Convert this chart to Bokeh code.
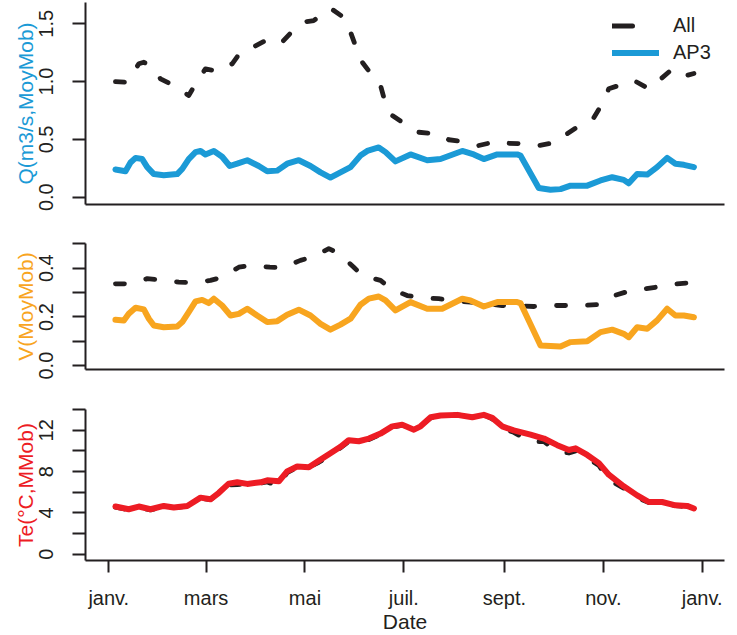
from bokeh.plotting import figure
from bokeh.models import Range1d, FixedTicker, Legend, LegendItem
from bokeh.layouts import column
from bokeh.embed import file_html
from bokeh.resources import INLINE

# ---------------- data (day of year, leap year; 0 = 1 janv.) ----------------
q_ap3_day = [4.1, 10.3, 13.4, 16.5, 20.6, 23.7, 27.8, 33.9, 42.2, 45.3, 49.3, 53.5, 56.6, 59.6, 64.8,
             69.9, 74.6, 79.2, 85.4, 92.5, 97.7, 103.9, 110.0, 117.2, 124.4, 130.6, 136.7, 142.9, 149.1,
             155.2, 159.4, 166.5, 170.7, 176.8, 186.1, 196.4, 204.6, 218.0, 225.1, 231.3, 239.6, 251.9,
             253.9, 265.2, 272.4, 278.6, 284.8, 295.1, 303.3, 310.5, 317.6, 320.7, 325.9, 332.1, 338.2,
             344.4, 349.5, 354.7, 360.9]
q_ap3_val = [0.24, 0.225, 0.30, 0.34, 0.33, 0.26, 0.20, 0.19, 0.20, 0.245, 0.33, 0.39, 0.40, 0.37, 0.40,
             0.35, 0.27, 0.29, 0.32, 0.27, 0.225, 0.23, 0.29, 0.32, 0.27, 0.215, 0.17, 0.215, 0.26,
             0.36, 0.40, 0.43, 0.39, 0.31, 0.37, 0.32, 0.33, 0.40, 0.37, 0.33, 0.37, 0.37,
             0.36, 0.08, 0.065, 0.07, 0.10, 0.10, 0.145, 0.173, 0.15, 0.12, 0.20, 0.196, 0.26,
             0.34, 0.29, 0.28, 0.26]

q_all_day = [4.1, 11.3, 18.5, 21.6, 24.7, 31.9, 40.1, 49.3, 53.5, 59.6, 66.9, 76.1, 81.2, 89.4, 96.7,
             105.9, 112.1, 119.3, 126.5, 133.7, 136.7, 138.8, 146.0, 149.1, 153.2, 156.3, 162.5, 167.6,
             170.7, 174.8, 184.0, 191.2, 202.6, 209.7, 221.1, 228.2, 239.6, 245.7, 258.1, 265.2, 276.6,
             282.7, 292.0, 299.1, 304.9, 308.4, 317.6, 323.8, 333.1, 338.2, 346.5, 352.7, 360.9]
q_all_val = [1.0, 0.995, 1.154, 1.168, 1.14, 1.024, 0.966, 0.88, 0.98, 1.11, 1.09, 1.154, 1.254, 1.30, 1.355,
             1.327, 1.419, 1.514, 1.528, 1.615, 1.63, 1.615, 1.543, 1.427, 1.27, 1.168, 1.053, 0.966,
             0.808, 0.707, 0.62, 0.562, 0.548, 0.497, 0.476, 0.447, 0.484, 0.467, 0.462, 0.447, 0.476,
             0.548, 0.635, 0.687, 0.822, 0.938, 0.981, 1.01, 0.938, 0.995, 1.096, 1.038, 1.07]

v_ap3_day = [4.1, 9.3, 12.3, 16.5, 21.6, 24.7, 27.8, 33.9, 42.2, 45.3, 49.3, 53.5, 57.6, 61.7, 64.8,
             69.9, 75.1, 80.2, 85.4, 91.5, 97.7, 103.9, 110.0, 117.2, 124.4, 130.6, 136.7, 142.9, 149.1,
             155.2, 160.4, 166.5, 170.7, 176.8, 186.1, 196.4, 205.6, 218.0, 223.1, 231.3, 239.6, 251.9,
             253.9, 266.3, 278.6, 284.8, 295.1, 303.3, 310.5, 317.6, 320.7, 325.9, 332.1, 338.2, 344.4,
             349.5, 354.7, 360.9]
v_ap3_val = [0.189, 0.186, 0.213, 0.238, 0.231, 0.193, 0.165, 0.158, 0.161, 0.179, 0.22, 0.264, 0.27, 0.257, 0.275,
             0.247, 0.206, 0.213, 0.234, 0.206, 0.179, 0.183, 0.209, 0.23, 0.206, 0.172, 0.148, 0.169, 0.193,
             0.25, 0.275, 0.284, 0.268, 0.227, 0.261, 0.234, 0.234, 0.275, 0.268, 0.243, 0.261, 0.261,
             0.257, 0.083, 0.079, 0.097, 0.101, 0.138, 0.148, 0.131, 0.117, 0.158, 0.152, 0.186, 0.234,
             0.206, 0.206, 0.199]

v_all_day = [4.1, 12.3, 23.7, 31.9, 43.2, 51.4, 62.7, 69.9, 80.2, 86.4, 99.3, 106.9, 118.2, 125.4, 135.7,
             141.9, 151.1, 156.3, 167.6, 173.8, 184.0, 192.2, 203.5, 211.8, 223.1, 231.3, 242.6, 250.8,
             262.1, 270.4, 281.7, 289.9, 301.2, 308.4, 318.7, 325.9, 337.2, 344.4, 356.7, 360.9]
v_all_val = [0.336, 0.336, 0.357, 0.352, 0.343, 0.34, 0.35, 0.363, 0.404, 0.411, 0.404, 0.402, 0.432, 0.445, 0.48,
             0.461, 0.404, 0.37, 0.35, 0.316, 0.288, 0.279, 0.275, 0.268, 0.261, 0.257, 0.247, 0.247,
             0.243, 0.247, 0.247, 0.247, 0.251, 0.281, 0.302, 0.311, 0.322, 0.333, 0.339, 0.339]

te_day = [4.1, 12.3, 18.5, 25.7, 33.9, 40.1, 48.4, 56.6, 62.7, 67.9, 74.0, 79.2, 85.4, 93.6, 97.7, 104.9,
          110.0, 116.2, 123.4, 129.5, 136.7, 142.9, 148.0, 154.2, 160.4, 167.6, 174.8, 181.0, 188.2, 192.3,
          198.5, 204.6, 214.9, 224.2, 231.3, 236.5, 242.6, 249.8, 260.1, 268.4, 276.6, 283.8, 287.9, 295.1,
          302.3, 308.4, 317.6, 325.9, 333.1, 341.3, 349.5, 356.7, 360.9]
te_ap3_val = [4.62, 4.36, 4.62, 4.36, 4.68, 4.52, 4.68, 5.48, 5.32, 5.95, 6.84, 6.97, 6.81, 6.97, 7.16, 7.06,
              8.02, 8.49, 8.43, 9.06, 9.77, 10.4, 11.04, 10.94, 11.2, 11.68, 12.38, 12.54, 12.06, 12.38,
              13.26, 13.43, 13.49, 13.26, 13.49, 13.2, 12.38, 11.99, 11.58, 11.2, 10.56, 10.09, 10.25, 9.61,
              8.82, 7.7, 6.58, 5.7, 5.06, 5.06, 4.74, 4.68, 4.43]
te_all_val = [4.55, 4.3, 4.55, 4.3, 4.6, 4.5, 4.65, 5.4, 5.3, 5.9, 6.7, 6.75, 6.8, 6.9, 7.0, 6.6,
              7.9, 8.4, 8.4, 8.9, 9.6, 10.3, 10.9, 10.9, 11.1, 11.6, 12.3, 12.5, 12.2, 12.4,
              13.2, 13.4, 13.5, 13.3, 13.5, 13.1, 12.2, 11.8, 10.9, 10.9, 10.0, 9.8, 10.0, 9.3,
              8.6, 7.2, 6.4, 5.5, 5.0, 5.0, 4.7, 4.6, 4.4]

month_ticks = [0, 60, 121, 182, 244, 305, 366]
month_labels = ["janv.", "mars", "mai", "juil.", "sept.", "nov.", "janv."]

q_ticks = [0.0, 0.5, 1.0, 1.5]
q_labels = ["0.0", "0.5", "1.0", "1.5"]
v_ticks = [0.0, 0.1, 0.2, 0.3, 0.4, 0.5]
v_labels = ["0.0", "", "0.2", "", "0.4", ""]
te_ticks = [0, 2, 4, 6, 8, 10, 12, 14]
te_labels = ["0", "", "4", "", "8", "", "12", ""]

# ---------------- style ----------------
FONT = "Liberation Sans"
INK = "#231f20"
BLUE = "#1b9ad6"
ORANGE = "#f8a51f"
RED = "#ed1c24"
X_START, X_END = -14.37, 379.76
TICK_FS = "20px"
TITLE_FS = "21px"
DASH = "9 22"
NAN = float("nan")


def make_fig(height, btop, bbottom, yr, ylabel, ycolor, yticks, ylabels):
    p = figure(width=729, height=height, output_backend="svg", toolbar_location=None,
               x_range=Range1d(X_START, X_END), y_range=Range1d(*yr),
               min_border_left=85, min_border_right=5, min_border_top=btop,
               min_border_bottom=bbottom)
    p.outline_line_color = None
    p.xgrid.visible = False
    p.ygrid.visible = False
    p.background_fill_color = "white"
    ax = p.yaxis[0]
    ax.ticker = FixedTicker(ticks=yticks)
    ax.major_label_overrides = {t: l for t, l in zip(yticks, ylabels)}
    ax.major_label_orientation = "parallel"
    ax.major_tick_out = 13
    ax.major_tick_in = 0
    ax.minor_tick_line_color = None
    ax.major_tick_line_width = 2
    ax.major_tick_line_color = INK
    ax.axis_line_width = 2
    ax.axis_line_color = INK
    ax.major_label_standoff = 19
    ax.major_label_text_font = FONT
    ax.major_label_text_font_size = TICK_FS
    ax.major_label_text_color = INK
    ax.axis_label = ylabel
    ax.axis_label_text_color = ycolor
    ax.axis_label_text_font = FONT
    ax.axis_label_text_font_size = TITLE_FS
    ax.axis_label_text_font_style = "normal"
    ax.axis_label_standoff = 0
    bx = p.xaxis[0]
    bx.axis_line_width = 2
    bx.axis_line_color = INK
    bx.minor_tick_line_color = None
    return p


def style_empty_xaxis(p):
    bx = p.xaxis[0]
    bx.ticker = FixedTicker(ticks=[])
    bx.major_tick_out = 0
    bx.major_tick_in = 0
    bx.major_label_standoff = 0
    bx.major_label_text_font_size = "0px"


# ---- top panel: Q ----
p1 = make_fig(214, 2, 10, (-0.063, 1.684), "Q(m3/s,MoyMob)", BLUE, q_ticks, q_labels)
style_empty_xaxis(p1)
p1.line(q_all_day, q_all_val, line_color=INK, line_width=4.8, line_dash=DASH, line_cap="round", line_join="round")
p1.line(q_ap3_day, q_ap3_val, line_color=BLUE, line_width=6, line_cap="round", line_join="round")
leg_all = p1.line(x=[NAN], y=[NAN], line_color=INK, line_width=5, line_dash="20 60", line_cap="round")
leg_ap3 = p1.line(x=[NAN], y=[NAN], line_color=BLUE, line_width=6, line_cap="round")
legend = Legend(items=[LegendItem(label="All", renderers=[leg_all]),
                       LegendItem(label="AP3", renderers=[leg_ap3])],
                location=(527, 140), glyph_width=47, glyph_height=23, label_height=23,
                spacing=4, padding=0, margin=0, label_standoff=14,
                border_line_color=None, background_fill_alpha=0,
                label_text_font=FONT, label_text_font_size=TICK_FS, label_text_color=INK)
p1.add_layout(legend)

# ---- middle panel: V ----
p2 = make_fig(165, 29, 10, (-0.0152, 0.5012), "V(MoyMob)", ORANGE, v_ticks, v_labels)
style_empty_xaxis(p2)
p2.line(v_all_day, v_all_val, line_color=INK, line_width=4.8, line_dash=DASH, line_cap="round", line_join="round")
p2.line(v_ap3_day, v_ap3_val, line_color=ORANGE, line_width=6, line_cap="round", line_join="round")

# ---- bottom panel: Te ----
p3 = make_fig(256, 30, 73, (-0.601, 14.01), "Te(°C,MMob)", RED, te_ticks, te_labels)
bx = p3.xaxis[0]
bx.ticker = FixedTicker(ticks=month_ticks)
bx.major_label_overrides = {t: l for t, l in zip(month_ticks, month_labels)}
bx.major_tick_out = 12
bx.major_tick_in = 0
bx.major_tick_line_width = 2
bx.major_tick_line_color = INK
bx.major_label_standoff = 14
bx.major_label_text_font = FONT
bx.major_label_text_font_size = TICK_FS
bx.major_label_text_color = INK
bx.axis_label = "Date"
bx.axis_label_text_font = FONT
bx.axis_label_text_font_size = TITLE_FS
bx.axis_label_text_font_style = "normal"
bx.axis_label_text_color = INK
bx.axis_label_standoff = -2
p3.line(te_day, te_all_val, line_color=INK, line_width=4.8, line_dash=DASH, line_cap="round", line_join="round")
p3.line(te_day, te_ap3_val, line_color=RED, line_width=6, line_cap="round", line_join="round")

layout = column(p1, p2, p3, spacing=0)
open("out.html", "w").write(file_html(layout, INLINE))
